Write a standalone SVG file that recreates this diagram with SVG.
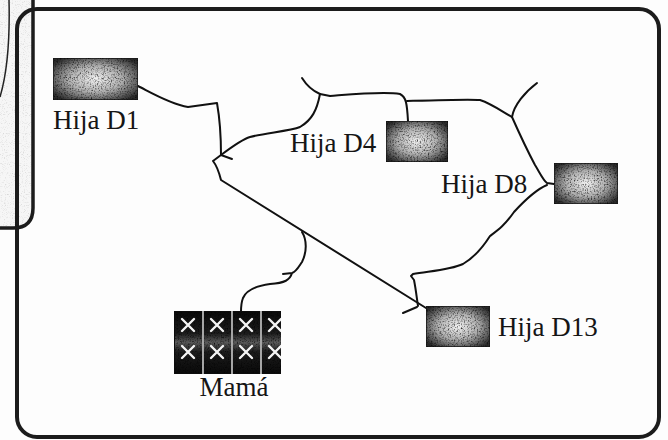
<svg xmlns="http://www.w3.org/2000/svg" width="668" height="440" viewBox="0 0 668 440">
  <style>
    .lbl { font-family: "Liberation Serif", "Times New Roman", serif; font-size: 27px; fill: #151515; }
    .wire { fill: none; stroke: #111; stroke-width: 2; stroke-linecap: round; stroke-linejoin: round; }
    .frame { fill: none; stroke: #1c1c1c; stroke-width: 4; }
    .box { fill: url(#boxGrad); stroke: #1a1a1a; stroke-width: 1.5; filter: url(#grain); }
    .x { stroke: #f4f4f4; stroke-width: 2.4; stroke-linecap: round; }
  </style>
  <defs>
    <radialGradient id="boxGrad" cx="50%" cy="50%" r="62%">
      <stop offset="0" stop-color="#f2f2f2"/>
      <stop offset="0.5" stop-color="#b0b0b0"/>
      <stop offset="1" stop-color="#2a2a2a"/>
    </radialGradient>
    <linearGradient id="colGrad" x1="0" y1="0" x2="0" y2="1">
      <stop offset="0" stop-color="#0a0a0a"/>
      <stop offset="0.35" stop-color="#1c1c1c"/>
      <stop offset="0.5" stop-color="#5a5a5a"/>
      <stop offset="0.65" stop-color="#1c1c1c"/>
      <stop offset="1" stop-color="#0a0a0a"/>
    </linearGradient>
    <filter id="grain" x="0" y="0" width="100%" height="100%" color-interpolation-filters="sRGB">
      <feTurbulence type="fractalNoise" baseFrequency="0.7" numOctaves="2" seed="7" result="t"/>
      <feColorMatrix in="t" type="saturate" values="0" result="g"/>
      <feComponentTransfer in="g" result="g2">
        <feFuncR type="linear" slope="2.4" intercept="-0.25"/>
        <feFuncG type="linear" slope="2.4" intercept="-0.25"/>
        <feFuncB type="linear" slope="2.4" intercept="-0.25"/>
        <feFuncA type="linear" slope="0" intercept="1"/>
      </feComponentTransfer>
      <feBlend in="SourceGraphic" in2="g2" mode="multiply" result="b"/>
      <feComposite in="b" in2="SourceGraphic" operator="in"/>
    </filter>
    <filter id="grainLight" x="0" y="0" width="100%" height="100%" color-interpolation-filters="sRGB">
      <feTurbulence type="fractalNoise" baseFrequency="0.9" numOctaves="1" seed="3" result="t"/>
      <feColorMatrix in="t" type="saturate" values="0" result="g"/>
      <feComponentTransfer in="g" result="g2">
        <feFuncR type="linear" slope="0.6" intercept="0.72"/>
        <feFuncG type="linear" slope="0.6" intercept="0.72"/>
        <feFuncB type="linear" slope="0.6" intercept="0.72"/>
        <feFuncA type="linear" slope="0" intercept="1"/>
      </feComponentTransfer>
      <feBlend in="SourceGraphic" in2="g2" mode="multiply" result="b"/>
      <feComposite in="b" in2="SourceGraphic" operator="in"/>
    </filter>
    <clipPath id="mamaClip"><rect x="174" y="311" width="107" height="63"/></clipPath>
  </defs>

  <rect x="0" y="0" width="668" height="440" fill="#fdfdfd"/>

  <g id="frame">
    <path d="M0,0 L33,0 L33,208 Q33,228 13,228 L0,228 Z" fill="#f6f6f6" filter="url(#grainLight)"/>
    <path d="M9,0 C10,40 8,70 0,97" fill="none" stroke="#222" stroke-width="1.5"/>
    <rect class="frame" x="17" y="9" width="642" height="428" rx="20" ry="20"/>
    <path d="M33,0 L33,208 Q33,228 13,228 L0,228" fill="none" stroke="#1c1c1c" stroke-width="3.5"/>
  </g>

  <g id="connectors">
    <path class="wire" d="M138,86 C150,92 170,104 188,107 L217,103 C220,120 221,140 221,155"/>
    <path class="wire" d="M221,155 L232,159"/>
    <path class="wire" d="M221,155 L213,161 C217,166 219,172 221,180 L426,308"/>
    <path class="wire" d="M403,313 L417,307"/>
    <path class="wire" d="M221,155 C233,146 243,139 250,137 C265,133 290,131 300,127 C312,120 317,110 320,94"/>
    <path class="wire" d="M302,78 C307,86 313,91 320,94"/>
    <path class="wire" d="M320,94 L330,96 C355,94 385,91 400,94 C406,97 407,103 408,121"/>
    <path class="wire" d="M407,101 C440,100 470,99 480,100 C492,104 503,112 512,117"/>
    <path class="wire" d="M512,117 C514,105 525,92 537,83"/>
    <path class="wire" d="M512,117 C520,135 527,150 535,165 C540,173 543,180 547,183 L554,184"/>
    <path class="wire" d="M547,185 C535,190 525,200 514,212 C505,225 498,230 490,236 C483,247 475,257 463,264 C450,270 430,271 413,274 L411,276 L414,280 C416,290 417,300 418,306"/>
    <path class="wire" d="M302,232 C307,240 307,252 302,262 C298,268 296,272 292,273 L283,274 M292,273 C290,280 285,283 270,284 C255,286 246,291 243,298 C241,303 241,308 241,312"/>
  </g>

  <g id="node-d1">
    <rect class="box" x="53" y="58" width="85" height="42"/>
    <text class="lbl" x="53" y="129">Hija D1</text>
  </g>

  <g id="node-d4">
    <rect class="box" x="386" y="121" width="62" height="41"/>
    <text class="lbl" x="290" y="152">Hija D4</text>
  </g>

  <g id="node-d8">
    <rect class="box" x="554" y="163" width="64" height="41"/>
    <text class="lbl" x="441" y="193">Hija D8</text>
  </g>

  <g id="node-d13">
    <rect class="box" x="426" y="306" width="64" height="41"/>
    <text class="lbl" x="498" y="336">Hija D13</text>
  </g>

  <g id="node-mama">
    <g clip-path="url(#mamaClip)">
      <rect x="174" y="311" width="107" height="63" fill="#0c0c0c"/>
      <rect x="175" y="312" width="27" height="61" fill="url(#colGrad)" filter="url(#grain)"/>
      <rect x="204" y="312" width="27" height="61" fill="url(#colGrad)" filter="url(#grain)"/>
      <rect x="233" y="312" width="27" height="61" fill="url(#colGrad)" filter="url(#grain)"/>
      <rect x="262" y="312" width="27" height="61" fill="url(#colGrad)" filter="url(#grain)"/>
      <g fill="none" stroke="#e8e8e8" stroke-width="1.4">
        <line x1="203" y1="311" x2="203" y2="374"/>
        <line x1="232" y1="311" x2="232" y2="374"/>
        <line x1="261" y1="311" x2="261" y2="374"/>
      </g>
      <g class="x">
        <path d="M182,319 L194,331 M194,319 L182,331"/>
        <path d="M211,319 L223,331 M223,319 L211,331"/>
        <path d="M240,319 L252,331 M252,319 L240,331"/>
        <path d="M269,319 L281,331 M281,319 L269,331"/>
        <path d="M182,346 L194,358 M194,346 L182,358"/>
        <path d="M211,346 L223,358 M223,346 L211,358"/>
        <path d="M240,346 L252,358 M252,346 L240,358"/>
        <path d="M269,346 L281,358 M281,346 L269,358"/>
      </g>
    </g>
    <text class="lbl" x="234" y="396" text-anchor="middle">Mamá</text>
  </g>
</svg>
